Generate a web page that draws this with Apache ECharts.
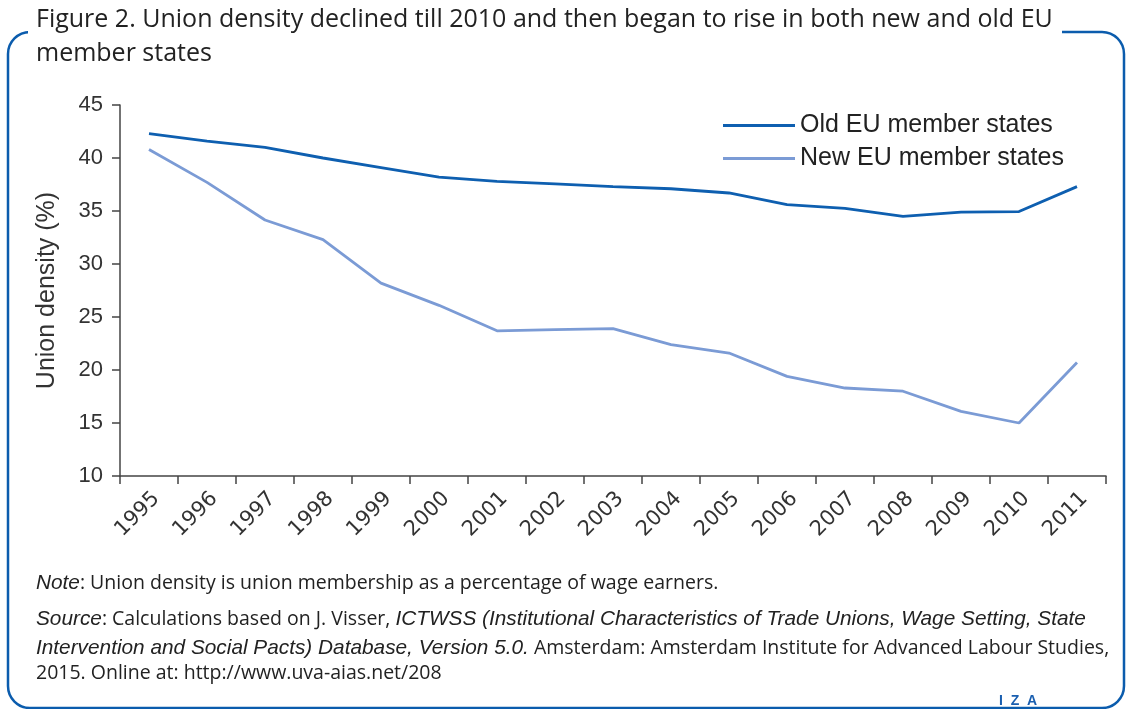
<!DOCTYPE html>
<html>
<head>
<meta charset="utf-8">
<script src="https://cdn.jsdelivr.net/npm/echarts@6/dist/echarts.min.js"></script>
<style>
html,body{margin:0;padding:0;background:#fff;}
#main{width:1126px;height:709px;}
</style>
</head>
<body>
<div id="main"></div>
<script>
var years = ['1995','1996','1997','1998','1999','2000','2001','2002','2003','2004','2005','2006','2007','2008','2009','2010','2011'];
var oldEU = [42.3, 41.6, 41.0, 40.0, 39.1, 38.2, 37.8, 37.55, 37.3, 37.1, 36.7, 35.6, 35.25, 34.5, 34.9, 34.95, 37.3];
var newEU = [40.8, 37.7, 34.15, 32.3, 28.2, 26.1, 23.7, 23.8, 23.9, 22.4, 21.6, 19.4, 18.3, 18.0, 16.1, 15.0, 20.7];
var seriesNames = ['Old EU member states', 'New EU member states'];
var yTicks = [10, 15, 20, 25, 30, 35, 40, 45];

var TXT = 'Liberation Sans, Arial, sans-serif';
var OS = '"Open Sans", Liberation Sans, sans-serif';
var chart = echarts.init(document.getElementById('main'), null, {renderer:'canvas'});
var axisCol = '#444';
var rich = {
  i: {fontFamily: TXT, fontSize: 20.8, fontStyle: 'italic', fill: '#222', color: '#222'},
  n: {fontFamily: OS, fontSize: 19.5, fill: '#222', color: '#222'}
};
var option = {
  backgroundColor: '#fff',
  animation: false,
  grid: {left: 120, right: 20, top: 105, bottom: 233, containLabel: false},
  legend: {
    data: seriesNames,
    orient: 'vertical',
    left: 718, top: 108,
    itemWidth: 72, itemHeight: 3, itemGap: 8,
    icon: 'rect',
    textStyle: {fontFamily: TXT, fontSize: 25, color: '#222'}
  },
  xAxis: {
    type: 'category', data: years, boundaryGap: true,
    axisLine: {lineStyle: {color: axisCol, width: 1.5}},
    axisTick: {show: true, length: 8, lineStyle: {color: axisCol, width: 1.5}},
    axisLabel: {rotate: 45, interval: 0, margin: 12, verticalAlign: 'top', fontFamily: 'DejaVu Sans', fontSize: 21, color: '#333'}
  },
  yAxis: {
    type: 'value', min: yTicks[0], max: yTicks[yTicks.length-1], interval: 5,
    name: 'Union density (%)', nameLocation: 'middle', nameGap: 60, nameRotate: 90,
    nameTextStyle: {fontFamily: TXT, fontSize: 25, color: '#333'},
    axisLine: {show: true, lineStyle: {color: axisCol, width: 1.5}},
    axisTick: {show: true, length: 8, lineStyle: {color: axisCol, width: 1.5}},
    axisLabel: {margin: 17, fontFamily: TXT, fontSize: 22, color: '#333'},
    splitLine: {show: false}
  },
  series: [
    {name: seriesNames[0], type: 'line', data: oldEU, symbol: 'none', lineStyle: {color: '#0e5fb0', width: 2.8}, itemStyle: {color: '#0e5fb0'}},
    {name: seriesNames[1], type: 'line', data: newEU, symbol: 'none', lineStyle: {color: '#7b9bd5', width: 2.8}, itemStyle: {color: '#7b9bd5'}}
  ],
  graphic: [
    {type: 'rect', z: -10, shape: {x: 8, y: 32, width: 1116, height: 676, r: 22}, style: {fill: 'none', stroke: '#0b5cad', lineWidth: 2.5}},
    {type: 'rect', z: -5, shape: {x: 28, y: 20, width: 1034, height: 22}, style: {fill: '#fff'}},
    {type: 'text', left: 36, top: 7, z: 10, style: {text: 'Figure 2. Union density declined till 2010 and then began to rise in both new and old EU', font: '25px ' + OS, fill: '#222'}},
    {type: 'text', left: 36, top: 41, z: 10, style: {text: 'member states', font: '25px ' + OS, fill: '#222'}},
    {type: 'text', left: 36, top: 573, style: {
      text: '{i|Note}{n|: Union density is union membership as a percentage of wage earners.}', rich: rich}},
    {type: 'text', left: 36, top: 609, style: {
      text: '{i|Source}{n|: Calculations based on J. Visser, }{i|ICTWSS (Institutional Characteristics of Trade Unions, Wage Setting, State}', rich: rich}},
    {type: 'text', left: 36, top: 638, style: {
      text: '{i|Intervention and Social Pacts) Database, Version 5.0.}{n| Amsterdam: Amsterdam Institute for Advanced Labour Studies,}', rich: rich}},
    {type: 'text', left: 36, top: 663, style: {
      text: '{n|2015. Online at: http://www.uva-aias.net/208}', rich: rich}},
    {type: 'text', left: 999, top: 694, style: {text: 'I  Z  A', font: 'bold 14px ' + TXT, fill: '#1a5fb0'}}
  ]
};
chart.setOption(option);
</script>
</body>
</html>
